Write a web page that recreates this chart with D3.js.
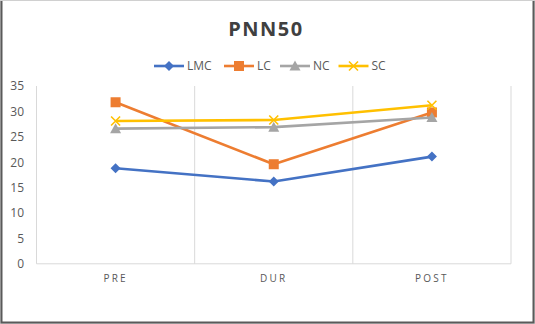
<!DOCTYPE html>
<html><head><meta charset="utf-8">
<script src="https://cdn.jsdelivr.net/npm/d3@7"></script>
<style>html,body{margin:0;padding:0;background:#fff;}svg{display:block;font-family:"Open Sans",sans-serif;}</style>
</head><body>
<svg id="c" width="535" height="324"></svg>
<script>
const categories = ["PRE", "DUR", "POST"];
const seriesNames = ["LMC", "LC", "NC", "SC"];
const LMC = [18.8, 16.2, 21.1];
const LC = [31.8, 19.6, 29.8];
const NC = [26.6, 26.9, 28.8];
const SC = [28.1, 28.3, 31.2];
const yTicks = [0, 5, 10, 15, 20, 25, 30, 35];
const colors = ["#4472C4", "#ED7D31", "#A5A5A5", "#FFC000"];
const symbols = ["diamond", "square", "triangle", "x"];
const series = [LMC, LC, NC, SC];

const svg = d3.select("#c");
// border
svg.append("rect").attr("x",0.5).attr("y",0.5).attr("width",534).attr("height",323).attr("fill","#fff").attr("stroke","#d0d0d0");
svg.append("path").attr("d","M1.5,1 V322.5 H533.5 V1").attr("fill","none").attr("stroke","#5a5a5a").attr("stroke-width",2);

const x = d3.scaleBand().domain(categories).range([36.5, 511]);
const y = d3.scaleLinear().domain([0, 35]).range([263.8, 86]);

// vertical gridlines
const bounds = categories.map(c => x(c)).concat([x.range()[1]]);
svg.append("g").selectAll("line").data(bounds).join("line")
  .attr("x1", d => d).attr("x2", d => d).attr("y1", y(35)).attr("y2", y(0))
  .attr("stroke", "#d9d9d9").attr("stroke-width", 1);
svg.append("line").attr("x1", x.range()[0]).attr("x2", x.range()[1]).attr("y1", y(0)).attr("y2", y(0))
  .attr("stroke", "#d9d9d9").attr("stroke-width", 1);

// y axis labels
const yAxis = d3.axisLeft(y).tickValues(yTicks).tickSize(0).tickPadding(0);
const ga = svg.append("g").attr("transform", "translate(24,0)").call(yAxis);
ga.select(".domain").remove();
ga.selectAll("text").attr("fill", "#595959").style("font-size", "12px").style("font-family", "'Open Sans',sans-serif");

// x axis labels
const xAxis = d3.axisBottom(x).tickSize(0).tickPadding(0);
const gx = svg.append("g").attr("transform", "translate(0,275)").call(xAxis);
gx.select(".domain").remove();
gx.selectAll("text").attr("fill", "#595959").style("font-size", "10px").style("letter-spacing", "2.2px").style("font-family", "'Open Sans',sans-serif");

function drawMarker(g, type, color, cx, cy, s) {
  if (type === "diamond") {
    g.append("path").attr("d", `M${cx},${cy-5} L${cx+5},${cy} L${cx},${cy+5} L${cx-5},${cy} Z`).attr("fill", color);
  } else if (type === "square") {
    g.append("rect").attr("x", cx-5).attr("y", cy-5).attr("width", 10).attr("height", 10).attr("fill", color);
  } else if (type === "triangle") {
    g.append("path").attr("d", `M${cx},${cy-5.5} L${cx+5.5},${cy+4.5} L${cx-5.5},${cy+4.5} Z`).attr("fill", color);
  } else {
    g.append("path").attr("d", `M${cx-4.5},${cy-4.5} L${cx+4.5},${cy+4.5} M${cx+4.5},${cy-4.5} L${cx-4.5},${cy+4.5}`).attr("stroke", color).attr("stroke-width", 1.6).attr("fill","none");
  }
}

const line = d3.line().x((d, i) => x(categories[i]) + x.bandwidth()/2).y(d => y(d));
series.forEach((vals, si) => {
  const g = svg.append("g");
  g.append("path").attr("d", line(vals)).attr("fill", "none").attr("stroke", colors[si]).attr("stroke-width", 2.6).attr("stroke-linejoin","round");
  vals.forEach((v, i) => drawMarker(g, symbols[si], colors[si], x(categories[i]) + x.bandwidth()/2, y(v)));
});

// title
svg.append("text").attr("x", 266).attr("y", 36).attr("text-anchor", "middle")
  .attr("fill", "#404040").style("font-size", "20px").style("font-weight", "bold").style("letter-spacing", "1.5px")
  .text("PNN50");

// legend
const legendX = [154, 224, 280, 338.5];
seriesNames.forEach((n, i) => {
  const g = svg.append("g");
  const lx = legendX[i];
  g.append("line").attr("x1", lx).attr("x2", lx + 30).attr("y1", 66).attr("y2", 66).attr("stroke", colors[i]).attr("stroke-width", 2.6);
  drawMarker(g, symbols[i], colors[i], lx + 15, 66);
  g.append("text").attr("x", lx + 33).attr("y", 70).attr("fill", "#595959").style("font-size", "12px").text(n);
});
</script>
</body></html>
